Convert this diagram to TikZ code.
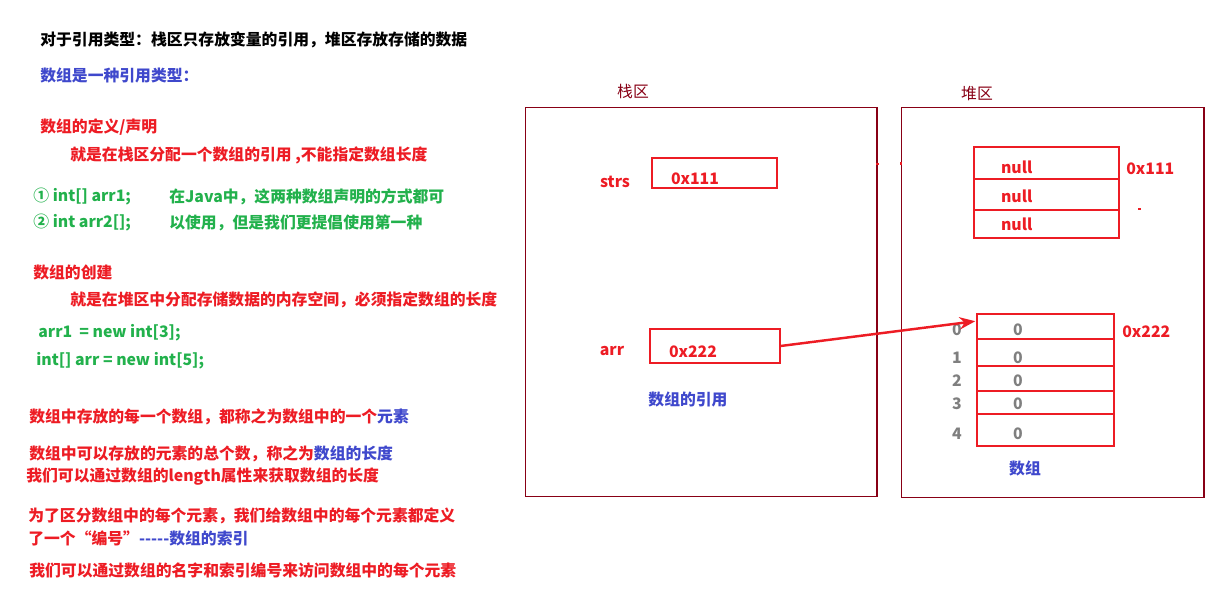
\documentclass[tikz,border=0pt]{standalone}
\usepackage{fontspec}
\usepackage{xcolor}
\usepackage{tikz}
\usetikzlibrary{positioning,arrows.meta}
\setmainfont{Noto Sans CJK SC}
\definecolor{pred}{RGB}{237,28,36}
\definecolor{pblue}{RGB}{63,72,204}
\definecolor{pgreen}{RGB}{34,177,76}
\definecolor{pwine}{RGB}{136,0,21}
\definecolor{pgray}{RGB}{127,127,127}

\begin{document}
\begin{tikzpicture}[x=0.02cm, y=-0.02cm, font=\fontsize{9pt}{11pt}\selectfont\bfseries,
    txt/.style  = {anchor=west, inner sep=0pt},
    area/.style = {draw=pwine, line width=0.6pt, minimum height=78mm},
    title/.style = {text=pwine, font=\fontsize{9pt}{11pt}\selectfont\mdseries},
    slot/.style = {draw=pred, line width=0.6pt, text=pred, align=left, inner ysep=0pt, inner xsep=3.8mm, text height=13pt, text depth=0pt},
    cell/.style = {draw=pred, line width=0.6pt, outer sep=0pt, inner ysep=0pt, align=left},
    nul/.style  = {cell, text=pred, inner xsep=5.4mm, text width=18.2mm},
    val/.style  = {cell, text=pgray, inner xsep=7.2mm, text width=13mm, text depth=0pt},
    ptr/.style  = {draw=pred, line width=1.4pt, -{Stealth[length=9pt,width=7pt]}}]
    \useasboundingbox (0,0) rectangle (1230,599);

    % left column: notes
    \node[txt]             (head)    at (40,40)  {对于引用类型：栈区只存放变量的引用，堆区存放存储的数据};
    \node[txt, text=pblue] (kind)    at (40,75)  {数组是一种引用类型：};
    \node[txt, text=pred]  (def)     at (40,127) {数组的定义/声明};
    \node[txt, text=pred]  (defnote) at (70,155) {就是在栈区分配一个数组的引用 ,不能指定数组长度};
    \node[txt, text=pgreen] (decl1)  at (33,197) {① int[] arr1;};
    \node[txt, text=pgreen] (note1)  at (169,197) {在Java中，这两种数组声明的方式都可};
    \node[txt, text=pgreen] (decl2)  at (33,223) {② int arr2[];};
    \node[txt, text=pgreen] (note2)  at (169,223) {以使用，但是我们更提倡使用第一种};
    \node[txt, text=pred]  (make)    at (33,272) {数组的创建};
    \node[txt, text=pred]  (makenote) at (70,300) {就是在堆区中分配存储数据的内存空间，必须指定数组的长度};
    \node[txt, text=pgreen] (code1)  at (38,333) {arr1 \ = new int[3];};
    \node[txt, text=pgreen] (code2)  at (36,361) {int[] arr = new int[5];};
    \node[txt, text=pred]  (elem)    at (29,417) {数组中存放的每一个数组，都称之为数组中的一个\textcolor{pblue}{元素}};
    \node[txt, text=pred]  (len1)    at (29,454) {数组中可以存放的元素的总个数，称之为\textcolor{pblue}{数组的长度}};
    \node[txt, text=pred]  (len2)    at (26,477) {我们可以通过数组的length属性来获取数组的长度};
    \node[txt, text=pred]  (idx1)    at (28,516) {为了区分数组中的每个元素，我们给数组中的每个元素都定义};
    \node[txt, text=pred]  (idx2)    at (28,538) {了一个“编号”\textcolor{pblue}{-{}-{}-{}-{}-数组的索引}};
    \node[txt, text=pred]  (access)  at (29,570) {我们可以通过数组的名字和索引编号来访问数组中的每个元素};

    % stack
    \node[area, minimum width=70.4mm] (stack) at (701,302) {};
    \node[title] (stacklbl) at (633,91) {栈区};
    \node[slot, minimum height=6mm, minimum width=25mm, text width=17.4mm] (strsval) at (714.5,173) {0x111};
    \node[text=pred, inner sep=0pt] (strs) at (615,182) {strs};
    \node[slot, minimum height=6.8mm, minimum width=26mm, text width=18.4mm] (arrval) at (715,346) {0x222};
    \node[text=pred, inner sep=0pt] (arr) at (612,351) {arr};
    \node[text=pblue, inner sep=0pt] (refnote) at (688,399) {数组的引用};

    % heap
    \node[area, minimum width=60.6mm] (heap) at (1052.5,302.5) {};
    \node[title] (heaplbl) at (977,94) {堆区};
    \node[nul, minimum height=6.4mm, text height=12pt, anchor=north west] (n1) at (974,147) {null};
    \node[nul, minimum height=6.2mm, text height=9pt, below=0pt of n1] (n2) {null};
    \node[nul, minimum height=5.6mm, below=0pt of n2] (n3) {null};
    \node[text=pred, anchor=west, inner sep=0pt, right=1.4mm of n1, yshift=-3.4pt] (addr1) {0x111};

    \node[val, minimum height=5mm, text height=10pt, anchor=north west] (a0) at (977,314) {0};
    \node[val, minimum height=5.4mm, text height=12pt, below=0pt of a0] (a1) {0};
    \node[val, minimum height=5mm, text height=9pt, below=0pt of a1] (a2) {0};
    \node[val, minimum height=4.6mm, text height=8pt, below=0pt of a2] (a3) {0};
    \node[val, minimum height=6.4mm, text height=11pt, below=0pt of a3] (a4) {0};
    \foreach \i in {0,...,4}
        \node[text=pgray, inner sep=0pt, anchor=base east] (i\i) at ([xshift=-3mm]a\i.base west) {\i};
    \node[text=pred, inner sep=0pt, right=1.6mm of a0, yshift=-3pt] (addr2) {0x222};
    \node[text=pblue, inner sep=0pt] (arrlbl) at (1025,468) {数组};

    \draw[ptr] (arrval.east) -- ([xshift=-1pt,yshift=3pt]a0.west);

    \draw[pred, line width=1pt] (876,164) -- (879,164);
    \draw[pred, line width=1pt] (901,162) -- (901,165);
    \draw[pred, line width=1pt] (1138,209) -- (1141,209);
\end{tikzpicture}
\end{document}
